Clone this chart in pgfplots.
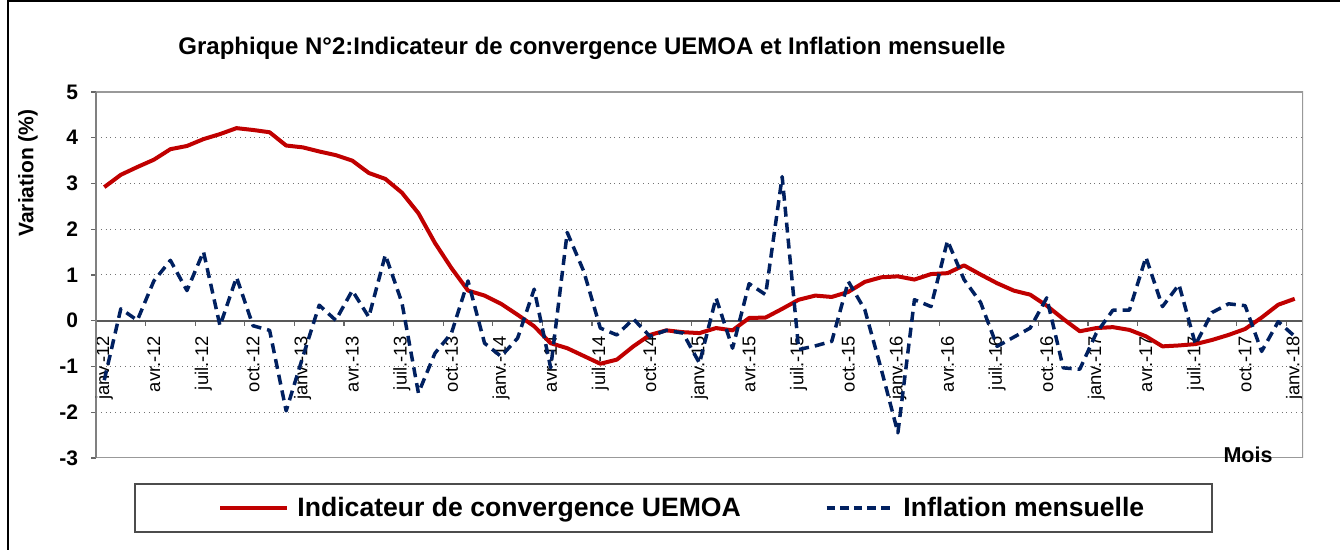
\documentclass[border=0pt]{standalone}
\usepackage{fontspec}
\setmainfont{Liberation Sans}
\usepackage{pgfplots}
\pgfplotsset{compat=1.18}
\usepackage{pgfplotstable}

\definecolor{rougeC}{HTML}{C00000}
\definecolor{bleuI}{HTML}{002060}

% mois : 0 = janv.-12 ... 72 = janv.-18
\pgfplotstableread{
m conv infl
0 2.92 -1.30
1 3.19 0.26
2 3.36 0.01
3 3.52 0.87
4 3.75 1.32
5 3.82 0.66
6 3.97 1.51
7 4.08 -0.11
8 4.21 0.95
9 4.17 -0.11
10 4.12 -0.21
11 3.83 -1.97
12 3.79 -0.80
13 3.70 0.34
14 3.62 0.01
15 3.50 0.66
16 3.23 0.08
17 3.10 1.44
18 2.80 0.40
19 2.35 -1.58
20 1.70 -0.71
21 1.15 -0.27
22 0.66 0.87
23 0.55 -0.49
24 0.37 -0.78
25 0.13 -0.38
26 -0.12 0.69
27 -0.49 -1.03
28 -0.60 1.93
29 -0.77 1.08
30 -0.94 -0.16
31 -0.85 -0.31
32 -0.56 0.04
33 -0.31 -0.34
34 -0.21 -0.21
35 -0.25 -0.27
36 -0.27 -0.93
37 -0.16 0.50
38 -0.21 -0.60
39 0.06 0.81
40 0.07 0.57
41 0.26 3.15
42 0.46 -0.63
43 0.55 -0.55
44 0.52 -0.45
45 0.63 0.86
46 0.85 0.24
47 0.95 -1.07
48 0.97 -2.45
49 0.90 0.46
50 1.02 0.31
51 1.04 1.75
52 1.21 0.90
53 1.01 0.40
54 0.82 -0.56
55 0.66 -0.36
56 0.57 -0.16
57 0.33 0.50
58 0.04 -1.03
59 -0.23 -1.06
60 -0.16 -0.27
61 -0.14 0.23
62 -0.20 0.23
63 -0.34 1.39
64 -0.56 0.31
65 -0.54 0.79
66 -0.51 -0.52
67 -0.42 0.18
68 -0.31 0.37
69 -0.18 0.33
70 0.07 -0.67
71 0.35 -0.02
72 0.48 -0.34
}\data

\begin{document}
\begin{tikzpicture}
\path[use as bounding box] (0,0) rectangle (670pt,275pt);
\draw[black, line width=0.8pt] (4pt,0pt) -- (4pt,274.5pt) -- (670pt,274.5pt);

\begin{axis}[
  at={(48pt,46pt)}, anchor=south west,
  scale only axis, width=603.5pt, height=183pt,
  xmin=-0.5, xmax=72.5, ymin=-3, ymax=5,
  axis x line=middle, axis y line=left,
  axis line style={-},
  x axis line style={draw=black!65, line width=0.9pt},
  y axis line style={draw=black!50, line width=1pt},
  hide obscured x ticks=false, hide obscured y ticks=false,
  ytick={-3,-2,...,5},
  yticklabel style={font=\bfseries\fontsize{10.5}{12}\selectfont, xshift=-3pt},
  /pgf/number format/assume math mode=true,
  xtick={2.5,5.5,...,71.5},
  xticklabels={},
  extra x ticks={0,3,6,9,12,15,18,21,24,27,30,33,36,39,42,45,48,51,54,57,60,63,66,69,72},
  extra x tick labels={janv.-12,avr.-12,juil.-12,oct.-12,janv.-13,avr.-13,juil.-13,oct.-13,janv.-14,avr.-14,juil.-14,oct.-14,janv.-15,avr.-15,juil.-15,oct.-15,janv.-16,avr.-16,juil.-16,oct.-16,janv.-17,avr.-17,juil.-17,oct.-17,janv.-18},
  extra x tick style={major tick length=0pt, grid=none},
  xticklabel style={font=\fontsize{9.2}{10}\selectfont, yshift=-4pt, rotate=90, anchor=east},
  tick align=outside, major tick length=2.5pt,
  tick style={black!60, line width=0.6pt},
  ymajorgrids=true, xmajorgrids=false,
  grid style={black!55, dotted, line width=0.5pt},
  legend columns=2,
  legend style={at={(axis description cs:0.1011,-0.1366)}, anchor=west,
    draw=none, fill=none, inner sep=0pt,
    nodes={inner sep=0pt, font=\bfseries\fontsize{13.3}{15}\selectfont},
    /tikz/every odd column/.append style={column sep=4pt},
    /tikz/every even column/.append style={column sep=42pt}},
  legend image code/.code={\draw[#1] (0pt,0pt) -- (33.5pt,0pt);},
]
\addplot[rougeC, line width=2pt, line join=round] table[x=m, y=conv] {\data};
\addlegendentry{Indicateur de convergence UEMOA}
\addplot[bleuI, line width=1.75pt, line join=round, dash pattern=on 5pt off 3pt,
  legend image post style={dash pattern=on 4.3pt off 2.5pt}] table[x=m, y=infl] {\data};
\addlegendentry{Inflation mensuelle}
\draw[black!40, line width=1pt] (rel axis cs:0,0) rectangle (rel axis cs:1,1);
\draw[black!50, line width=1pt] (rel axis cs:0,0) -- (rel axis cs:0,1);
\end{axis}

\draw[black!70, line width=0.6pt] (67.5pt,9pt) rectangle (606pt,33pt);
\node[font=\bfseries\fontsize{12}{14}\selectfont] at (296pt,251pt) {Graphique N°2:Indicateur de convergence UEMOA et Inflation mensuelle};
\node[font=\bfseries\fontsize{10.5}{12}\selectfont, rotate=90] at (14pt,188.5pt) {Variation (\%)};
\node[font=\bfseries\fontsize{10.75}{12}\selectfont] at (624pt,47.5pt) {Mois};
\end{tikzpicture}
\end{document}
